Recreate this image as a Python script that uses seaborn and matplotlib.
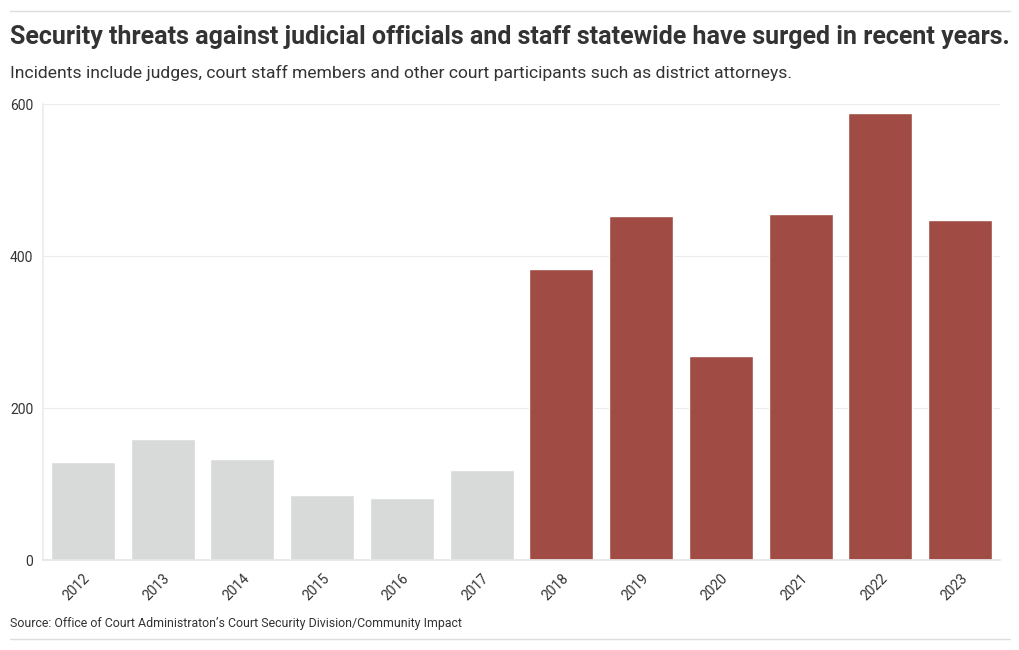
import matplotlib
matplotlib.use("Agg")
import matplotlib.pyplot as plt
import seaborn as sns
import pandas as pd

# datos
years = ["2012", "2013", "2014", "2015", "2016", "2017",
         "2018", "2019", "2020", "2021", "2022", "2023"]
threats = [129, 159, 133, 86, 82, 118, 383, 452, 268, 455, 588, 447]
periods = ["before"] * 6 + ["after"] * 6

title = "Security threats against judicial officials and staff statewide have surged in recent years."
subtitle = "Incidents include judges, court staff members and other court participants such as district attorneys."
source = "Source: Office of Court Administraton\u2019s Court Security Division/Community Impact"

df = pd.DataFrame({"year": years, "threats": threats, "period": periods})

sns.set_theme(style="white")
plt.rcParams["font.family"] = ["Roboto", "DejaVu Sans"]

fig = plt.figure(figsize=(10.2, 6.5), dpi=100)
ax = fig.add_axes([43 / 1020, 1 - 560 / 650, (1000 - 43) / 1020, (560 - 104) / 650])

sns.barplot(data=df, x="year", y="threats", hue="period",
            palette={"before": "#d8dad9", "after": "#a04c44"},
            dodge=False, width=0.8, legend=False, ax=ax, saturation=1)

ax.set_ylim(0, 600)
ax.set_xlim(-0.5, 11.5)
ax.set_yticks([0, 200, 400, 600])
ax.yaxis.grid(True, color="#ececec", linewidth=0.8)
ax.set_axisbelow(True)
for s in ["top", "right"]:
    ax.spines[s].set_visible(False)
ax.spines["left"].set_color("#ececec")
ax.spines["bottom"].set_color("#e6e6e6")
ax.tick_params(axis="both", length=5, color="#e6e6e6", labelcolor="#333333",
               labelsize=10, pad=3)
ax.tick_params(axis="y", pad=2)
plt.setp(ax.get_xticklabels(), rotation=45, ha="right", rotation_mode="anchor")
ax.set_xlabel("")
ax.set_ylabel("")

# titulos y fuente
fig.text(10 / 1020, 1 - 37 / 650, title, fontsize=18.0, fontweight="bold",
         color="#333333", va="center", ha="left")
fig.text(10 / 1020, 1 - 73 / 650, subtitle, fontsize=12.6, color="#333333",
         va="center", ha="left")
fig.text(10 / 1020, 1 - 624 / 650, source, fontsize=8.9, color="#333333",
         va="center", ha="left")

# lineas de separacion
fig.add_artist(plt.Line2D([10 / 1020, 1010 / 1020], [1 - 11 / 650] * 2,
                          color="#dddddd", linewidth=1))
fig.add_artist(plt.Line2D([10 / 1020, 1010 / 1020], [1 - 639 / 650] * 2,
                          color="#dddddd", linewidth=1))

plt.savefig("out.png", dpi=100)
